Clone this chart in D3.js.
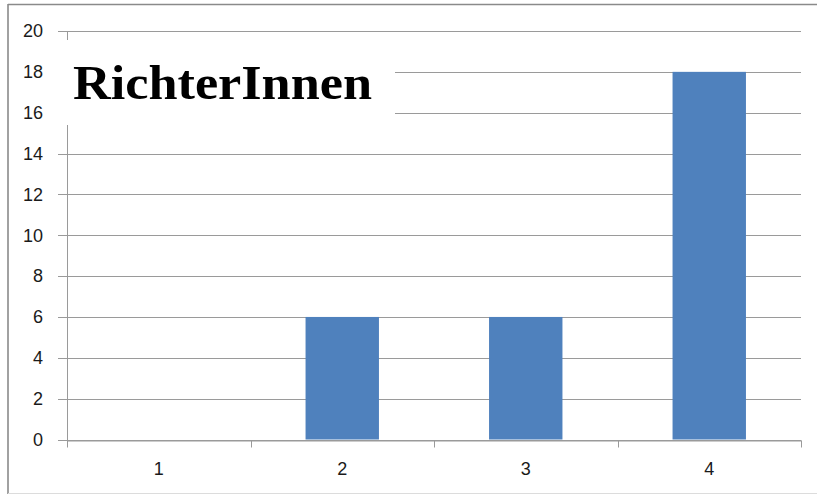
<!DOCTYPE html>
<html>
<head>
<meta charset="utf-8">
<script src="https://cdn.jsdelivr.net/npm/d3@7"></script>
<style>
  body { margin: 0; background: #fff; }
</style>
</head>
<body>
<div id="chart-area"></div>
<script>
const categories = ['1', '2', '3', '4']
const values = [0, 6, 6, 18]
const yTicks = [0, 2, 4, 6, 8, 10, 12, 14, 16, 18, 20]
const title = 'RichterInnen'

const W = 817, H = 495
const MARGIN = { LEFT: 67, RIGHT: 16, TOP: 31, BOTTOM: 55.5 }
const WIDTH = W - MARGIN.LEFT - MARGIN.RIGHT
const HEIGHT = H - MARGIN.TOP - MARGIN.BOTTOM

const svg = d3.select('#chart-area')
  .append('svg')
  .attr('width', W)
  .attr('height', H)

// outer frame
svg.append('line').attr('x1', 8).attr('x2', W).attr('y1', 4.5).attr('y2', 4.5)
  .attr('stroke', '#8a8a8a').attr('stroke-width', 1.6)
svg.append('line').attr('x1', 8).attr('x2', 8).attr('y1', 4).attr('y2', 494)
  .attr('stroke', '#8a8a8a').attr('stroke-width', 1.6)
svg.append('line').attr('x1', 8).attr('x2', W).attr('y1', 493.5).attr('y2', 493.5)
  .attr('stroke', '#dcdcdc').attr('stroke-width', 1)

const g = svg.append('g')
  .attr('transform', `translate(${MARGIN.LEFT},${MARGIN.TOP})`)

const x = d3.scaleBand()
  .domain(categories)
  .range([0, WIDTH])
  .paddingInner(0.6)
  .paddingOuter(0.3)

const xTick = d3.scaleBand()
  .domain(categories)
  .range([0, WIDTH])

const y = d3.scaleLinear()
  .domain([0, 20])
  .range([HEIGHT, 0])

// gridlines
g.append('g')
  .attr('class', 'grid')
  .selectAll('line')
  .data(yTicks)
  .enter().append('line')
  .attr('x1', -9)
  .attr('x2', WIDTH)
  .attr('y1', d => Math.round(y(d)) + 0.5)
  .attr('y2', d => Math.round(y(d)) + 0.5)
  .attr('stroke', '#9a9a9a')
  .attr('stroke-width', 1)

// y axis
const yAxisCall = d3.axisLeft(y)
  .tickValues(yTicks)
  .tickSize(0)
  .tickPadding(24)
const yAxis = g.append('g')
  .attr('class', 'y axis')
  .call(yAxisCall)
  .attr('font-family', '"Liberation Sans", Arial, sans-serif')
  .attr('font-size', 18)
yAxis.select('.domain').attr('stroke', '#9a9a9a')
yAxis.selectAll('text').attr('fill', '#1a1a1a')

// bars
g.selectAll('rect.bar')
  .data(values)
  .enter().append('rect')
  .attr('class', 'bar')
  .attr('x', (d, i) => x(categories[i]))
  .attr('y', d => y(d))
  .attr('width', x.bandwidth())
  .attr('height', d => HEIGHT - y(d))
  .attr('fill', '#4f81bd')

// x axis
const xAxisCall = d3.axisBottom(xTick)
  .tickSize(0)
  .tickPadding(22)
const xAxis = g.append('g')
  .attr('class', 'x axis')
  .attr('transform', `translate(0,${Math.round(HEIGHT) + 0.5})`)
  .call(xAxisCall)
  .attr('font-family', '"Liberation Sans", Arial, sans-serif')
  .attr('font-size', 18)
xAxis.select('.domain').attr('stroke', '#9a9a9a')
xAxis.selectAll('text').attr('fill', '#1a1a1a')

// category separators
xAxis.selectAll('line.sep')
  .data(categories.concat(['end']))
  .enter().append('line')
  .attr('class', 'sep')
  .attr('x1', (d, i) => Math.round(i * xTick.step()) + 0.5)
  .attr('x2', (d, i) => Math.round(i * xTick.step()) + 0.5)
  .attr('y1', 0)
  .attr('y2', 7)
  .attr('stroke', '#9a9a9a')

// title box
svg.append('rect')
  .attr('x', 52)
  .attr('y', 40)
  .attr('width', 343)
  .attr('height', 85)
  .attr('fill', '#fff')

svg.append('text')
  .attr('x', 73)
  .attr('y', 99)
  .attr('font-family', '"Liberation Serif", "DejaVu Serif", serif')
  .attr('font-weight', 'bold')
  .attr('font-size', '48px')
  .attr('textLength', 299)
  .attr('lengthAdjust', 'spacingAndGlyphs')
  .attr('fill', '#000')
  .text(title)
</script>
</body>
</html>
